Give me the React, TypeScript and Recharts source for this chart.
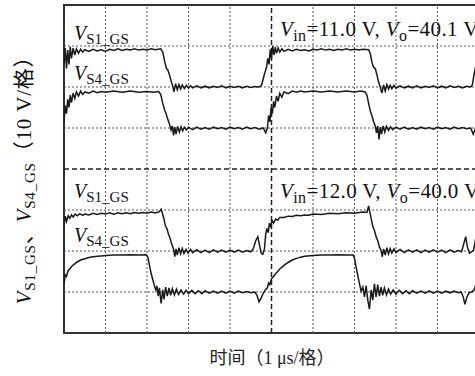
import { LineChart, Line, XAxis, YAxis, ReferenceLine, ReferenceArea } from 'recharts'

// time in divisions (1 µs/div), voltage in divisions (10 V/div), 0 = bottom of screen
const s1Top: [number, number][] = [
    [0, 6.55], [0.03, 6.95], [0.06, 6.45], [0.09, 6.9], [0.12, 6.55], [0.15, 6.98], [0.18, 6.7], [0.22, 6.95],
    [0.26, 6.78], [0.3, 6.93], [0.35, 6.82], [0.4, 6.92], [0.45, 6.85], [0.5, 6.91], [0.6, 6.87], [0.7, 6.92],
    [0.8, 6.88], [0.9, 6.91], [1.0, 6.87], [1.1, 6.92], [1.2, 6.89], [1.3, 6.93], [1.4, 6.89], [1.5, 6.92],
    [1.6, 6.9], [1.7, 6.93], [1.8, 6.9], [1.9, 6.92], [2.0, 6.9], [2.1, 6.93], [2.2, 6.91], [2.33, 6.93],
    [2.38, 6.85], [2.43, 6.6], [2.47, 6.45], [2.5, 6.42], [2.54, 6.3], [2.58, 6.15], [2.62, 6.02], [2.65, 5.88],
    [2.69, 6.08], [2.73, 5.93], [2.77, 6.06], [2.81, 5.95], [2.85, 6.05], [2.9, 5.96], [2.95, 6.04], [3.0, 5.97],
    [3.05, 6.03], [3.1, 5.98], [3.2, 6.03], [3.3, 5.98], [3.4, 6.02], [3.5, 5.98], [3.6, 6.02], [3.7, 5.99],
    [3.8, 6.03], [3.9, 5.98], [4.0, 6.02], [4.1, 5.99], [4.2, 6.02], [4.3, 5.98], [4.4, 6.02], [4.5, 5.99],
    [4.6, 6.01], [4.7, 6.0], [4.76, 6.04], [4.8, 6.2], [4.84, 6.35], [4.88, 6.48], [4.91, 6.7], [4.94, 6.55],
    [4.97, 6.92], [5.0, 6.7], [5.03, 7.0], [5.06, 6.78], [5.09, 6.97], [5.12, 6.82], [5.16, 6.95], [5.2, 6.85],
    [5.25, 6.93], [5.3, 6.87], [5.4, 6.92], [5.5, 6.88], [5.6, 6.92], [5.7, 6.89], [5.8, 6.91], [5.9, 6.88],
    [6.0, 6.92], [6.1, 6.9], [6.2, 6.93], [6.3, 6.9], [6.4, 6.92], [6.5, 6.89], [6.6, 6.92], [6.7, 6.9],
    [6.8, 6.93], [6.9, 6.9], [7.0, 6.92], [7.1, 6.9], [7.2, 6.92], [7.34, 6.91], [7.38, 6.82], [7.42, 6.6],
    [7.46, 6.48], [7.5, 6.45], [7.54, 6.3], [7.58, 6.12], [7.62, 6.0], [7.66, 5.85], [7.7, 6.05], [7.74, 5.9],
    [7.78, 6.06], [7.82, 5.95], [7.86, 6.04], [7.9, 5.96], [7.95, 6.04], [8.0, 5.97], [8.1, 6.03], [8.2, 5.98],
    [8.3, 6.02], [8.4, 5.98], [8.5, 6.03], [8.6, 5.98], [8.7, 6.02], [8.8, 5.99], [8.9, 6.03], [9.0, 5.98],
    [9.1, 6.02], [9.2, 5.98], [9.3, 6.03], [9.4, 5.99], [9.5, 6.02], [9.6, 5.98], [9.7, 6.02], [9.8, 6.0],
    [9.84, 6.05], [9.88, 6.3], [9.92, 6.5], [9.96, 6.8], [10, 6.7],
]

const s4Top: [number, number][] = [
    [0, 5.15], [0.03, 5.55], [0.06, 5.35], [0.09, 5.7], [0.12, 5.5], [0.15, 5.8], [0.18, 5.62], [0.22, 5.85],
    [0.26, 5.72], [0.3, 5.88], [0.35, 5.78], [0.4, 5.9], [0.45, 5.82], [0.5, 5.88], [0.6, 5.85], [0.7, 5.9],
    [0.8, 5.86], [0.9, 5.89], [1.0, 5.87], [1.2, 5.9], [1.4, 5.87], [1.6, 5.9], [1.8, 5.87], [2.0, 5.89],
    [2.15, 5.87], [2.28, 5.89], [2.33, 5.82], [2.38, 5.6], [2.42, 5.45], [2.46, 5.35], [2.5, 5.22], [2.54, 5.1],
    [2.58, 4.95], [2.61, 5.05], [2.64, 4.82], [2.67, 5.02], [2.7, 4.85], [2.74, 5.04], [2.78, 4.9], [2.82, 5.03],
    [2.86, 4.93], [2.9, 5.02], [2.95, 4.95], [3.0, 5.02], [3.1, 4.96], [3.2, 5.02], [3.3, 4.97], [3.4, 5.01],
    [3.5, 4.97], [3.6, 5.02], [3.7, 4.98], [3.8, 5.01], [3.9, 4.97], [4.0, 5.02], [4.1, 4.98], [4.2, 5.01],
    [4.3, 4.97], [4.4, 5.02], [4.5, 4.98], [4.6, 5.01], [4.7, 4.97], [4.8, 5.0], [4.86, 4.88], [4.9, 5.0],
    [4.93, 5.3], [4.96, 5.15], [4.99, 5.5], [5.02, 5.35], [5.05, 5.65], [5.08, 5.5], [5.12, 5.78], [5.16, 5.65],
    [5.2, 5.85], [5.25, 5.75], [5.3, 5.88], [5.4, 5.84], [5.5, 5.9], [5.6, 5.87], [5.7, 5.9], [5.8, 5.88],
    [6.0, 5.9], [6.2, 5.88], [6.4, 5.9], [6.6, 5.88], [6.8, 5.9], [7.0, 5.88], [7.15, 5.9], [7.26, 5.88],
    [7.3, 5.8], [7.34, 5.6], [7.38, 5.42], [7.42, 5.3], [7.46, 5.15], [7.5, 5.05], [7.53, 4.88], [7.56, 5.05],
    [7.59, 4.72], [7.62, 5.02], [7.65, 4.85], [7.69, 5.05], [7.73, 4.9], [7.77, 5.04], [7.82, 4.94], [7.87, 5.03],
    [7.92, 4.96], [8.0, 5.02], [8.1, 4.97], [8.2, 5.02], [8.3, 4.97], [8.4, 5.01], [8.5, 4.97], [8.6, 5.02],
    [8.7, 4.98], [8.8, 5.01], [8.9, 4.97], [9.0, 5.02], [9.1, 4.98], [9.2, 5.01], [9.3, 4.97], [9.4, 5.02],
    [9.5, 4.98], [9.6, 5.01], [9.7, 4.98], [9.8, 5.0], [9.86, 4.85], [9.92, 5.0], [10, 5.05],
]

const s1Bot: [number, number][] = [
    [0, 2.62], [0.03, 2.85], [0.06, 2.72], [0.1, 2.86], [0.14, 2.8], [0.18, 2.88], [0.22, 2.83], [0.27, 2.9],
    [0.32, 2.86], [0.38, 2.91], [0.45, 2.87], [0.5, 2.9], [0.6, 2.88], [0.7, 2.92], [0.8, 2.89], [0.9, 2.92],
    [1.0, 2.9], [1.1, 2.93], [1.2, 2.9], [1.3, 2.93], [1.4, 2.91], [1.5, 2.93], [1.6, 2.91], [1.7, 2.94],
    [1.8, 2.92], [1.9, 2.94], [2.0, 2.92], [2.1, 2.95], [2.2, 2.93], [2.3, 2.96], [2.34, 3.02], [2.37, 2.92],
    [2.41, 2.78], [2.44, 2.62], [2.48, 2.55], [2.52, 2.4], [2.56, 2.3], [2.6, 2.15], [2.64, 2.05], [2.67, 1.86],
    [2.7, 2.05], [2.73, 1.9], [2.77, 2.08], [2.81, 1.93], [2.85, 2.06], [2.89, 1.94], [2.94, 2.04], [2.99, 1.95],
    [3.05, 2.04], [3.1, 1.96], [3.2, 2.03], [3.3, 1.96], [3.4, 2.02], [3.5, 1.96], [3.6, 2.03], [3.7, 1.97],
    [3.8, 2.02], [3.9, 1.97], [4.0, 2.02], [4.1, 1.97], [4.2, 2.02], [4.3, 1.97], [4.4, 2.01], [4.5, 1.98],
    [4.56, 2.05], [4.62, 2.25], [4.67, 2.35], [4.71, 2.15], [4.75, 1.95], [4.79, 1.92], [4.83, 2.05], [4.86, 2.4],
    [4.89, 2.55], [4.92, 2.45], [4.95, 2.68], [4.98, 2.58], [5.01, 2.75], [5.05, 2.68], [5.1, 2.78], [5.15, 2.75],
    [5.2, 2.82], [5.3, 2.82], [5.4, 2.85], [5.5, 2.84], [5.6, 2.87], [5.7, 2.86], [5.8, 2.88], [5.9, 2.87],
    [6.0, 2.9], [6.2, 2.89], [6.4, 2.92], [6.6, 2.91], [6.8, 2.93], [7.0, 2.92], [7.2, 2.95], [7.3, 2.94],
    [7.34, 3.1], [7.37, 2.95], [7.4, 2.8], [7.44, 2.6], [7.48, 2.5], [7.52, 2.35], [7.56, 2.25], [7.6, 2.1],
    [7.64, 2.02], [7.67, 1.86], [7.7, 2.05], [7.74, 1.9], [7.78, 2.08], [7.82, 1.93], [7.86, 2.06], [7.9, 1.95],
    [7.95, 2.05], [8.0, 1.96], [8.1, 2.04], [8.2, 1.96], [8.3, 2.03], [8.4, 1.97], [8.5, 2.03], [8.6, 1.96],
    [8.7, 2.02], [8.8, 1.97], [8.9, 2.03], [9.0, 1.97], [9.1, 2.02], [9.2, 1.96], [9.3, 2.03], [9.4, 1.97],
    [9.5, 2.01], [9.58, 1.98], [9.64, 2.2], [9.68, 2.35], [9.72, 2.1], [9.77, 1.95], [9.82, 1.98], [9.87, 2.02],
    [9.92, 2.3], [9.96, 2.55], [10, 2.7],
]

const s4Bot: [number, number][] = [
    [0, 1.2], [0.03, 1.42], [0.06, 1.38], [0.1, 1.52], [0.15, 1.58], [0.2, 1.64], [0.25, 1.68], [0.3, 1.72],
    [0.35, 1.75], [0.4, 1.78], [0.5, 1.81], [0.6, 1.84], [0.7, 1.86], [0.8, 1.87], [0.9, 1.88], [1.0, 1.89],
    [1.2, 1.9], [1.4, 1.9], [1.6, 1.91], [1.8, 1.9], [1.98, 1.91], [2.02, 1.85], [2.06, 1.65], [2.1, 1.45],
    [2.14, 1.3], [2.18, 1.15], [2.21, 1.05], [2.24, 1.15], [2.27, 0.9], [2.3, 1.1], [2.34, 0.72], [2.38, 1.05],
    [2.41, 0.82], [2.45, 1.12], [2.49, 0.9], [2.53, 1.1], [2.57, 0.92], [2.61, 1.08], [2.66, 0.93], [2.71, 1.07],
    [2.76, 0.94], [2.82, 1.05], [2.88, 0.95], [2.94, 1.04], [3.0, 0.96], [3.08, 1.04], [3.16, 0.96], [3.24, 1.03],
    [3.32, 0.96], [3.4, 1.03], [3.5, 0.97], [3.6, 1.02], [3.7, 0.97], [3.8, 1.02], [3.9, 0.97], [4.0, 1.02],
    [4.1, 0.97], [4.2, 1.02], [4.3, 0.98], [4.4, 1.01], [4.5, 0.98], [4.6, 1.0], [4.65, 0.92], [4.7, 0.76],
    [4.75, 0.85], [4.8, 0.97], [4.85, 1.05], [4.9, 1.1], [4.93, 1.22], [4.96, 1.18], [5.0, 1.32], [5.05, 1.38],
    [5.1, 1.45], [5.15, 1.5], [5.2, 1.56], [5.3, 1.65], [5.4, 1.72], [5.5, 1.78], [5.6, 1.82], [5.7, 1.85],
    [5.8, 1.87], [6.0, 1.89], [6.2, 1.9], [6.4, 1.9], [6.6, 1.91], [6.8, 1.9], [6.97, 1.9], [7.0, 1.82],
    [7.04, 1.6], [7.08, 1.4], [7.12, 1.2], [7.16, 1.02], [7.2, 1.12], [7.24, 0.88], [7.28, 1.15], [7.32, 0.8],
    [7.36, 0.58], [7.4, 1.05], [7.44, 0.8], [7.48, 1.2], [7.52, 0.88], [7.56, 1.18], [7.6, 0.9], [7.64, 1.12],
    [7.68, 0.92], [7.72, 1.1], [7.77, 0.93], [7.82, 1.07], [7.87, 0.95], [7.93, 1.05], [8.0, 0.95], [8.08, 1.04],
    [8.16, 0.96], [8.24, 1.03], [8.32, 0.96], [8.4, 1.03], [8.5, 0.97], [8.6, 1.02], [8.7, 0.97], [8.8, 1.03],
    [8.9, 0.97], [9.0, 1.02], [9.1, 0.97], [9.2, 1.02], [9.3, 0.98], [9.4, 1.02], [9.5, 0.98], [9.57, 1.0],
    [9.62, 0.88], [9.66, 0.7], [9.71, 0.88], [9.76, 0.98], [9.82, 1.0], [9.88, 1.05], [9.93, 1.2], [9.97, 1.45],
    [10, 1.6],
]

const xGrid = [1, 2, 3, 4, 6, 7, 8, 9]
const yGrid = [1, 2, 3, 5, 6, 7]

const traces = [s1Top, s4Top, s1Bot, s4Bot]

const SERIF = '"Liberation Serif", "Times New Roman", serif'
const CJK = '"Liberation Serif", "Noto Sans CJK SC", serif'

function toRows(points: [number, number][]) {
    return points.map(([t, v]) => ({ t, v }))
}

function VSub({ sub, size = 15, drop = 4 }: { sub: string; size?: number; drop?: number }) {
    return (
        <>
            <i>V</i>
            <span style={{ fontSize: size, verticalAlign: -drop }}>{sub}</span>
        </>
    )
}

function Note({ left, top, size = 20, spacing = 0, children }: {
    left: number; top: number; size?: number; spacing?: number; children: React.ReactNode
}) {
    return (
        <div
            style={{
                position: 'absolute',
                left,
                top,
                fontFamily: SERIF,
                fontSize: size,
                lineHeight: `${size}px`,
                letterSpacing: spacing,
                whiteSpace: 'nowrap',
                color: '#111',
            }}
        >
            {children}
        </div>
    )
}

export default function App() {
    return (
        <div
            style={{
                position: 'absolute',
                left: 0,
                top: 0,
                width: 475,
                height: 376,
                overflow: 'hidden',
                background: '#fff',
            }}
        >
            <LineChart width={490} height={376} margin={{ top: 5, right: 11, bottom: 43, left: 64 }}>
                <XAxis type="number" dataKey="t" domain={[0, 10]} hide allowDataOverflow />
                <YAxis type="number" dataKey="v" domain={[0, 8]} hide allowDataOverflow />
                {xGrid.map((x) => (
                    <ReferenceLine key={`x${x}`} x={x} stroke="#555" strokeDasharray="2 2" strokeWidth={1} />
                ))}
                {yGrid.map((y) => (
                    <ReferenceLine key={`y${y}`} y={y} stroke="#555" strokeDasharray="2 2" strokeWidth={1} />
                ))}
                <ReferenceLine x={5} stroke="#222" strokeDasharray="5 3" strokeWidth={1.5} />
                <ReferenceLine y={4} stroke="#222" strokeDasharray="5 3" strokeWidth={1.5} />
                <ReferenceArea x1={0} x2={10} y1={0} y2={8} fill="none" stroke="#333" strokeWidth={2} />
                {traces.map((pts, i) => (
                    <Line
                        key={i}
                        data={toRows(pts)}
                        dataKey="v"
                        type="linear"
                        stroke="#1a1a1a"
                        strokeWidth={1.5}
                        dot={false}
                        isAnimationActive={false}
                    />
                ))}
            </LineChart>

            <Note left={74} top={23}><VSub sub="S1_GS" /></Note>
            <Note left={74} top={63}><VSub sub="S4_GS" /></Note>
            <Note left={74} top={181}><VSub sub="S1_GS" /></Note>
            <Note left={74} top={225}><VSub sub="S4_GS" /></Note>

            <Note left={280} top={19} size={21} spacing={0.4}>
                <VSub sub="in" size={16} drop={5} />=11.0 V, <VSub sub="o" size={16} drop={5} />=40.1 V
            </Note>
            <Note left={280} top={181} size={21} spacing={0.4}>
                <VSub sub="in" size={16} drop={5} />=12.0 V, <VSub sub="o" size={16} drop={5} />=40.0 V
            </Note>

            <div
                style={{
                    position: 'absolute',
                    left: 27,
                    top: 175,
                    transform: 'translate(-50%, -50%) rotate(-90deg)',
                    fontFamily: CJK,
                    fontSize: 21,
                    lineHeight: '21px',
                    letterSpacing: 0.8,
                    whiteSpace: 'nowrap',
                    color: '#111',
                }}
            >
                <VSub sub="S1_GS" />、<VSub sub="S4_GS" />（10 V/格）
            </div>

            <div
                style={{
                    position: 'absolute',
                    left: 272,
                    top: 358,
                    transform: 'translate(-50%, -50%)',
                    fontFamily: CJK,
                    fontSize: 18,
                    lineHeight: '18px',
                    whiteSpace: 'nowrap',
                    color: '#222',
                }}
            >
                时间（1 μs/格）
            </div>
        </div>
    )
}
